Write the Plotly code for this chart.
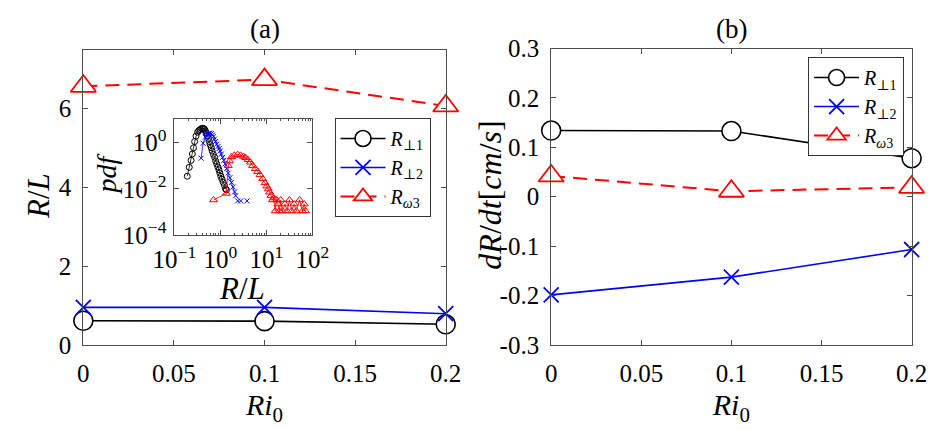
import plotly.graph_objects as go

# ---------------- data ----------------
ri0 = [0, 0.1, 0.2]

# panel (a): R/L
rl_perp1 = [0.61, 0.60, 0.52]
rl_perp2 = [0.95, 0.95, 0.79]
rl_omega3 = [6.57, 6.74, 6.07]

# panel (b): dR/dt [cm/s]
drdt_perp1 = [0.134, 0.133, 0.078]
drdt_perp2 = [-0.199, -0.163, -0.107]
drdt_omega3 = [0.042, 0.011, 0.019]

# inset: pdf of R/L
pdf_x_perp1 = [0.19, 0.21, 0.23, 0.245, 0.26, 0.275, 0.295, 0.32, 0.34, 0.36, 0.385, 0.41,
               0.43, 0.45, 0.47, 0.49, 0.52, 0.55, 0.575, 0.60, 0.63, 0.66, 0.70, 0.75, 0.79,
               0.83, 0.88, 0.93, 0.97, 1.02, 1.08, 1.15, 1.22, 1.29, 1.35]
pdf_perp1 = [0.035, 0.085, 0.17, 0.32, 0.59, 1.1, 1.9, 2.8, 3.3, 3.6, 4.0, 4.1,
             4.0, 3.8, 3.2, 2.6, 2.0, 1.5, 1.1, 0.81, 0.60, 0.43, 0.31, 0.23, 0.16,
             0.12, 0.088, 0.066, 0.048, 0.035, 0.026, 0.019, 0.014, 0.010, 0.009]

pdf_x_perp2 = [0.38, 0.42, 0.47, 0.51, 0.54, 0.56, 0.59, 0.63, 0.67, 0.71, 0.74, 0.78,
               0.83, 0.89, 0.94, 0.99, 1.05, 1.12, 1.19, 1.26, 1.37, 1.48, 1.61, 1.74,
               1.89, 2.04, 2.14, 2.24, 2.37, 2.55, 2.75, 3.2, 3.8]
pdf_perp2 = [0.21, 0.93, 1.7, 2.2, 2.4, 2.5, 2.5, 2.4, 2.1, 1.8, 1.4, 1.1,
             0.85, 0.68, 0.55, 0.43, 0.32, 0.23, 0.17, 0.12, 0.075, 0.048, 0.030, 0.019,
             0.012, 0.0074, 0.005, None, 0.003, None, 0.003, None, 0.003]

pdf_x_omega3 = [0.71, 1.35, 1.48, 1.58, 1.74, 2.0, 2.37, 2.75, 3.16, 3.55, 3.98, 4.47,
                5.0, 5.75, 6.46, 7.24, 8.3, 9.3, 10.2, 11.0, 11.7, 12.6, 13.5, 14.5,
                15.5, 16.6, 17.8, 19.0, 20.4, 22.4, 25.1, 28.2, 31.6, 35.5, 39.8, 44.7,
                52.5, 60.3, 66.0, 70.8]
pdf_omega3 = [0.0033, 0.0063, 0.10, 0.16, 0.24, 0.28, 0.30, 0.28, 0.25, 0.22, 0.18, 0.14,
              0.10, 0.074, 0.055, 0.040, 0.027, 0.018, 0.013, 0.0098, 0.0071, 0.0051, 0.0033, 0.0040,
              0.0011, 0.0033, 0.0022, 0.0011, 0.0033, 0.0011, 0.0022, 0.0011, 0.0033, 0.0011, 0.0022, 0.0011,
              0.0033, 0.0011, 0.0022, 0.0011]

names = ["<i>R</i><sub>⊥1</sub>", "<i>R</i><sub>⊥2</sub>", "<i>R</i><sub><i>ω</i>3</sub>"]
xlabel = "<i>Ri</i><sub>0</sub>"

x_tickvals = [0, 0.05, 0.1, 0.15, 0.2]
x_ticktext = ["0", "0.05", "0.1", "0.15", "0.2"]
ya_tickvals = [0, 2, 4, 6]
ya_ticktext = ["0", "2", "4", "6"]
yb_tickvals = [-0.3, -0.2, -0.1, 0, 0.1, 0.2, 0.3]
yb_ticktext = ["-0.3", "-0.2", "-0.1", "0", "0.1", "0.2", "0.3"]
inset_x_tickvals = [0.1, 1, 10, 100]
inset_x_ticktext = ["10<sup>−1</sup>", "10<sup>0</sup>", "10<sup>1</sup>", "10<sup>2</sup>"]
inset_y_tickvals = [1e-4, 1e-2, 1]
inset_y_ticktext = ["10<sup>−4</sup>", "10<sup>−2</sup>", "10<sup>0</sup>"]

# ---------------- styling ----------------
W, H = 943, 430
FONT = "'Liberation Serif', 'Times New Roman', 'DejaVu Serif', serif"
AXC = "#4d4d4d"
BLACK, BLUE, RED = "#000000", "#0000ff", "#ff0000"

fig = go.Figure()

def main_traces(ys, xa, ya, legend):
    styles = [
        dict(line=dict(color=BLACK, width=1.6),
             marker=dict(symbol="circle", size=19, color="white", line=dict(color=BLACK, width=1.6))),
        dict(line=dict(color=BLUE, width=1.6),
             marker=dict(symbol="x-thin-open", size=15, color=BLUE, line=dict(color=BLUE, width=1.8))),
        dict(line=dict(color=RED, width=2, dash="14px,8px"),
             marker=dict(symbol="triangle-up", size=22, color="white", line=dict(color=RED, width=1.8))),
    ]
    for name, y, st in zip(names, ys, styles):
        fig.add_trace(go.Scatter(x=ri0, y=y, name=name, mode="lines+markers", xaxis=xa, yaxis=ya,
                                 legend=legend, cliponaxis=False, **st))

main_traces([rl_perp1, rl_perp2, rl_omega3], "x", "y", "legend")
main_traces([drdt_perp1, drdt_perp2, drdt_omega3], "x2", "y2", "legend2")

# inset
fig.add_trace(go.Scatter(x=pdf_x_perp1, y=pdf_perp1, mode="lines+markers", xaxis="x3", yaxis="y3",
                         showlegend=False, line=dict(color=BLACK, width=0.8),
                         marker=dict(symbol="circle-open", size=6, color=BLACK, line=dict(width=1))))
fig.add_trace(go.Scatter(x=pdf_x_perp2, y=pdf_perp2, mode="lines+markers", xaxis="x3", yaxis="y3",
                         showlegend=False, line=dict(color=BLUE, width=0.8),
                         marker=dict(symbol="x-thin-open", size=5, color=BLUE, line=dict(color=BLUE, width=1))))
fig.add_trace(go.Scatter(x=pdf_x_omega3, y=pdf_omega3, mode="lines+markers", xaxis="x3", yaxis="y3",
                         showlegend=False, line=dict(color=RED, width=0.8),
                         marker=dict(symbol="triangle-up-open", size=7, color=RED, line=dict(color=RED, width=1))))

common = dict(showline=True, linecolor=AXC, linewidth=1, mirror="ticks", ticks="inside", ticklen=5,
              tickcolor=AXC, tickwidth=1, showgrid=False, zeroline=False,
              tickfont=dict(family=FONT, size=25, color="black"), tickmode="array")

minor_x = [k * 10.0 ** e for e in (-1, 0, 1) for k in range(2, 10)]
xtitle = dict(text=xlabel, font=dict(family=FONT, size=30, color="black"), standoff=8)

fig.update_layout(
    width=W, height=H, margin=dict(l=0, r=0, t=0, b=0),
    paper_bgcolor="white", plot_bgcolor="white",
    font=dict(family=FONT, color="black"),
    xaxis=dict(domain=[64 / W, 442 / W], range=[0, 0.2], anchor="y", title=xtitle,
               tickvals=x_tickvals, ticktext=x_ticktext, ticklabelstandoff=6, **common),
    yaxis=dict(domain=[76 / H, 390 / H], range=[0, 7.48], anchor="x",
               tickvals=ya_tickvals, ticktext=ya_ticktext, ticklabelstandoff=6, **common),
    xaxis2=dict(domain=[552 / W, 928 / W], range=[0, 0.2], anchor="y2", title=xtitle,
                tickvals=x_tickvals, ticktext=x_ticktext, ticklabelstandoff=6, **common),
    yaxis2=dict(domain=[76 / H, 392 / H], range=[-0.3, 0.3], anchor="x2",
                tickvals=yb_tickvals, ticktext=yb_ticktext, ticklabelstandoff=6, **common),
    xaxis3=dict(domain=[159 / W, 303 / W], type="log", range=[-1, 2], anchor="y3",
                tickvals=inset_x_tickvals, ticktext=inset_x_ticktext, ticklabelstandoff=2,
                minor=dict(tickvals=minor_x, ticks="inside", ticklen=2, tickcolor=AXC),
                **common),
    yaxis3=dict(domain=[193 / H, 317 / H], type="log", range=[-4, 1.02], anchor="x3",
                tickvals=inset_y_tickvals, ticktext=inset_y_ticktext, ticklabelstandoff=2,
                **common),
    legend=dict(x=326 / W, y=(H - 112) / H, xanchor="left", yanchor="top",
                bgcolor="white", bordercolor="#333333", borderwidth=1,
                font=dict(family=FONT, size=20, color="black"), itemwidth=45,
                tracegroupgap=0),
    legend2=dict(x=820 / W, y=(H - 47) / H, xanchor="left", yanchor="top",
                 bgcolor="white", bordercolor="#333333", borderwidth=1,
                 font=dict(family=FONT, size=20, color="black"), itemwidth=45,
                 tracegroupgap=0),
)

ann = []
def txt(text, x, y, size, angle=0, yanchor="middle"):
    ann.append(dict(text=text, x=x / W, y=(H - y) / H, xref="paper", yref="paper",
                    showarrow=False, xanchor="center", yanchor=yanchor, textangle=angle,
                    font=dict(family=FONT, size=size, color="black")))

txt("(a)", 253, 17, 27)
txt("(b)", 740, 17, 27)
txt("<i>R</i>/<i>L</i>", 18, 195, 31, -90)
txt("<i>dR</i>/<i>dt</i>[<i>cm</i>/<i>s</i>]", 488, 194, 32, -90)
txt("<i>pdf</i>", 88, 172, 28, -90)
txt("<i>R</i>/<i>L</i>", 230, 294, 31)
fig.update_layout(annotations=ann)

fig.write_html("out.html")
